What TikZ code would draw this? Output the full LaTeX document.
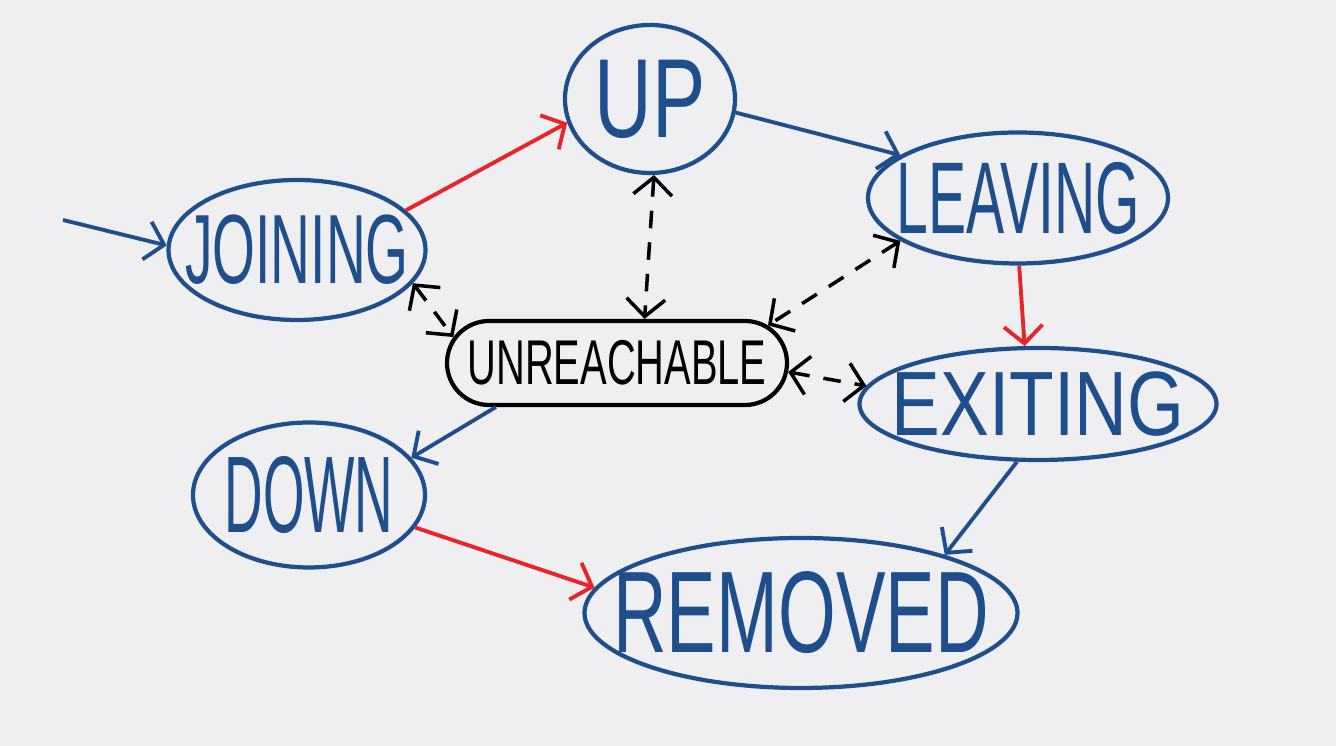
\documentclass[tikz,border=0pt]{standalone}
\usepackage{fontspec}
\setmainfont{Liberation Sans}
\usetikzlibrary{arrows.meta, shapes.geometric, shapes.misc}
\definecolor{inkblue}{RGB}{30,78,140}
\definecolor{inkred}{RGB}{232,36,40}
\definecolor{paper}{RGB}{239,239,241}
% squeezed label that does not widen its node
\newcommand{\lbl}[2]{\makebox[0pt]{\addfontfeature{FakeStretch=#1}#2}}
\tikzset{
  state/.style={
      ellipse,
      draw=inkblue,
      line width=1.2pt,
      text=inkblue,
      inner sep=0pt
    },
  hub/.style={
      rounded rectangle,
      draw=black,
      line width=1.2pt,
      inner sep=0pt,
      minimum width=3.4cm,
      minimum height=0.84cm,
      font=\fontsize{18}{20}\selectfont
    },
  arr/.style={
      -{Straight Barb[length=5pt,width=11pt]},
      line width=1.1pt,
      draw=inkblue
    },
  redarr/.style={
      arr,
      draw=inkred
    },
  dasharr/.style={
      {Straight Barb[length=5pt,width=11pt]}-{Straight Barb[length=5pt,width=11pt]},
      line width=1pt,
      dash pattern=on 5pt off 4pt
    }
}
\begin{document}
\begin{tikzpicture}
  \fill[paper] (0,0) rectangle (13.36,-7.46);
  \useasboundingbox (0,0) rectangle (13.36,-7.46);
  % states
  \node[state, minimum width=1.70cm, minimum height=1.48cm, font=\fontsize{32}{34}\selectfont] (up) at (6.50,-0.99) {\lbl{0.71}{UP}};
  \node[state, minimum width=2.57cm, minimum height=1.40cm, font=\fontsize{28}{30}\selectfont] (joining) at (2.97,-2.50) {\lbl{0.56}{JOINING}};
  \node[state, minimum width=3.00cm, minimum height=1.31cm, font=\fontsize{29}{31}\selectfont] (leaving) at (10.18,-1.98) {\lbl{0.56}{LEAVING}};
  \node[hub] (unreach) at (6.17,-3.63) {\lbl{0.63}{UNREACHABLE}};
  \node[state, minimum width=3.57cm, minimum height=1.12cm, font=\fontsize{26}{28}\selectfont] (exiting) at (10.38,-4.04) {\lbl{0.8}{EXITING}};
  \node[state, minimum width=2.32cm, minimum height=1.45cm, font=\fontsize{31}{33}\selectfont] (down) at (3.09,-4.95) {\lbl{0.49}{DOWN}};
  \node[state, minimum width=4.33cm, minimum height=1.50cm, font=\fontsize{33}{35}\selectfont] (removed) at (8.01,-6.13) {\lbl{0.64}{REMOVED}};
  \coordinate (start) at (0.63,-2.20);
  % transitions
  \draw[arr] (start) -- (joining.178);
  \draw[redarr] (joining.20) -- (up.196);
  \draw[arr] (up.-9) -- (leaving.160);
  \draw[redarr] (leaving.-89) -- (exiting.103);
  \draw[arr] (exiting.250) -- (removed.22);
  \draw[redarr] (down.-17) -- (removed.173);
  \draw[arr] (unreach.200) -- (down.20);
  % unreachable links
  \draw[dasharr] (up.-87) -- (unreach.58);
  \draw[dasharr] (joining.-16) -- (unreach.171);
  \draw[dasharr] (leaving.200) -- (unreach.14);
  \draw[dasharr] (unreach.-3) -- (exiting.174);
\end{tikzpicture}
\end{document}
